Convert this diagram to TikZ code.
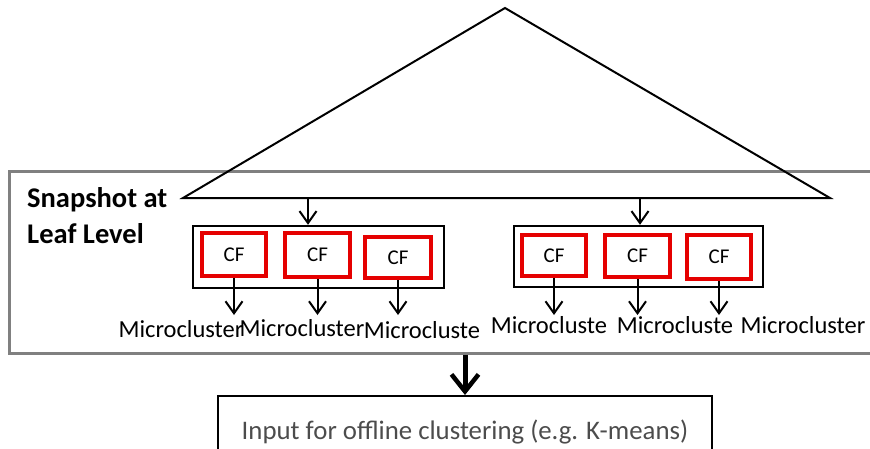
\documentclass[tikz,border=0pt]{standalone}
\usepackage{fontspec}
\setmainfont{Carlito}
\usetikzlibrary{arrows.meta}
\begin{document}
\begin{tikzpicture}[x=1pt,y=-1pt,
  every node/.style={inner sep=0pt},
  line/.style={line width=2pt,line join=miter},
  arr/.style={line width=2pt,-{Straight Barb[length=12pt,width=17pt,line width=2pt]}},
  bigarr/.style={line width=5pt,-{Straight Barb[length=17pt,width=27pt,line width=4.5pt]}},
  leafbox/.style={draw,line width=2.4pt},
  cfbox/.style={draw=red!90!black,line width=4pt,font=\fontsize{21}{23}\selectfont},
  mclabel/.style={anchor=base,font=\fontsize{24.5}{26}\selectfont},
  snapbox/.style={draw=black!50,line width=2.6pt}]
  \useasboundingbox (0,0) rectangle (870,448);
  \clip (0,0) rectangle (870,448);

  % outer frame and its caption
  \node[snapbox,anchor=north west,minimum width=880,minimum height=182] (snap) at (8,170) {};
  \node[anchor=base west,font=\fontsize{28.5}{30}\selectfont\bfseries] (cap1) at (27,207) {Snapshot at};
  \node[anchor=base west,font=\fontsize{28.5}{30}\selectfont\bfseries] (cap2) at (27,243) {Leaf Level};

  % tree
  \coordinate (top) at (505,8);
  \coordinate (bl) at (183,198);
  \coordinate (br) at (830,198);
  \draw[line] (top) -- (bl) -- (br) -- cycle;

  % leaf nodes
  \node[leafbox,minimum width=251,minimum height=62] (leaf1) at (318.5,257) {};
  \node[leafbox,minimum width=249,minimum height=61] (leaf2) at (638.5,256.5) {};
  \coordinate (b1) at (308,198);
  \coordinate (b2) at (640,198);
  \draw[arr] (b1) -- (b1 |- leaf1.north);
  \draw[arr] (b2) -- (b2 |- leaf2.north);

  % CF entries
  \node[cfbox,minimum width=64,minimum height=43] (cf1) at (234,254.5) {CF};
  \node[cfbox,minimum width=65,minimum height=44] (cf2) at (317.5,255) {CF};
  \node[cfbox,minimum width=66,minimum height=41] (cf3) at (398,257.5) {CF};
  \node[cfbox,minimum width=64,minimum height=41] (cf4) at (554,255.5) {CF};
  \node[cfbox,minimum width=65,minimum height=42] (cf5) at (637.5,256) {CF};
  \node[cfbox,minimum width=64,minimum height=44] (cf6) at (719,257) {CF};

  % microclusters
  \node[mclabel] (mc1) at (181,337) {Microcluster};
  \node[mclabel] (mc2) at (302,336) {Microcluster};
  \node[mclabel] (mc3) at (422,338) {Microcluste};
  \node[mclabel] (mc4) at (549,333) {Microcluste};
  \node[mclabel] (mc5) at (675,333) {Microcluste};
  \node[mclabel] (mc6) at (803,333) {Microcluster};
  \coordinate (mcline) at (0,315);
  \foreach \i in {1,...,6}
    \draw[arr] (cf\i.south) -- (cf\i.south |- mcline);

  % offline step
  \node[draw,line width=2pt,minimum width=494,minimum height=72,
        text=black!70,font=\fontsize{26.8}{28}\selectfont] (offline) at (465,432)
        {Input for offline clustering (e.g. K-means)};
  \draw[bigarr] (snap.south -| offline.north) -- (offline.north);
\end{tikzpicture}
\end{document}
